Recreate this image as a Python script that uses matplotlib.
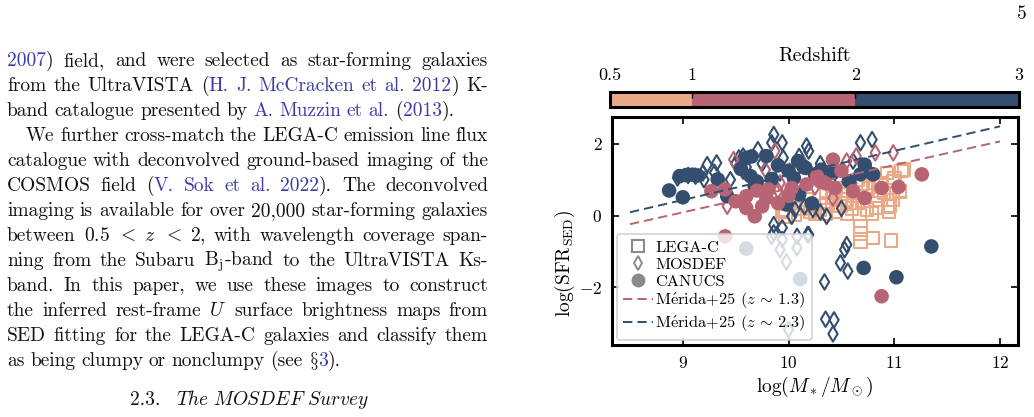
import matplotlib
matplotlib.use("Agg")

import matplotlib.pyplot as plt
import matplotlib.colorbar as mcolorbar
from matplotlib.colors import ListedColormap, BoundaryNorm
from matplotlib.lines import Line2D
import numpy as np

plt.rcParams["font.family"] = ["cmr10", "DejaVu Serif"]
plt.rcParams["mathtext.fontset"] = "cm"
plt.rcParams["axes.formatter.use_mathtext"] = True
plt.rcParams["axes.unicode_minus"] = True

# ---- data ----
z_edges = [0.5, 1, 2, 3]
z_colors = ["#EBAA87", "#B86474", "#344E6F"]   # 0.5-1, 1-2, 2-3

legac_mass = [9.97, 10.06, 9.94, 9.95, 10.23, 10.36, 10.49, 10.55, 10.74, 10.83,
              10.96, 11.05, 11.07, 11.09, 10.93, 10.99, 10.68, 10.68, 10.68, 10.80,
              10.97, 10.36, 10.17, 10.61, 10.80, 10.90, 10.83, 10.42, 10.96, 10.94,
              11.05, 10.99, 10.79, 10.53, 10.41, 10.30, 10.45, 10.60, 10.70, 10.88,
              10.75, 10.50, 10.65, 10.12, 10.25, 10.10, 10.20, 10.35, 10.55, 10.65,
              10.85, 11.00, 10.70, 10.45, 10.95]
legac_sfr = [-0.02, 0.03, 0.17, 0.11, 0.26, 0.35, 0.26, 0.45, 0.17, 0.21,
             0.26, 0.68, 1.24, 1.28, 1.19, 0.96, -0.30, -0.50, -0.74, -0.62,
             -0.70, 0.63, 0.45, 0.63, 0.91, 0.63, 0.45, 0.49, 0.62, 0.25,
             0.67, 0.44, 0.06, 0.34, 0.53, 0.15, 0.10, 0.20, 0.40, 0.90,
             0.75, 0.60, 1.00, 0.20, 0.05, 0.35, 0.10, 0.05, 0.05, 0.35,
             0.70, 1.05, 0.90, 0.75, 0.10]

mosdef_mass = [8.95, 9.05, 9.12, 9.23, 9.32, 9.19, 9.53, 9.57, 9.71, 9.86,
               9.94, 9.84, 9.95, 9.92, 10.17, 10.19, 10.68, 10.79, 10.61, 10.23,
               10.36, 10.03, 10.06, 9.86, 9.94, 10.19, 9.86, 9.57, 10.55, 10.53,
               10.49, 10.56, 10.34, 10.35, 10.43, 10.42, 10.18, 9.84, 9.94, 10.08,
               9.92, 10.08, 9.98, 10.00, 9.30, 9.45, 9.60, 9.75, 10.10, 10.30,
               10.40, 10.00, 10.15, 10.30, 10.50, 9.50, 9.20,
               9.48, 9.87, 9.42, 9.78, 10.01, 10.55, 10.64, 10.82, 10.99, 9.92,
               10.42, 9.65, 9.90, 10.25, 10.60, 10.75, 10.15]
mosdef_sfr = [1.05, 1.12, 1.10, 1.42, 1.47, 1.19, 1.61, 1.66, 1.84, 2.26,
              2.03, 2.03, 1.61, 1.19, 1.94, 1.80, 2.03, 2.12, 1.52, 0.17,
              -0.02, -0.02, 0.17, -0.25, -0.34, -0.53, -0.48, 1.24, -0.81, -0.95,
              -1.32, -1.55, -1.85, -2.89, -2.91, -3.30, -0.53, -0.58, -0.67, -0.58,
              -0.95, -0.90, -1.29, -3.18, 1.20, 1.00, 1.35, 1.45, 1.65, 1.45,
              1.00, 0.60, 0.25, 0.10, 0.20, 1.45, 1.00,
              1.56, 1.80, 0.26, 1.28, 1.24, 1.52, 1.66, 1.75, 1.75, 0.91,
              0.49, 1.00, 0.70, 0.80, 0.90, 1.30, 1.40]
mosdef_zbin = [2] * 57 + [1] * 17

canucs_mass = [8.87, 9.00, 8.97, 9.03, 9.09, 9.14, 9.33, 9.42, 9.64, 9.68,
               9.60, 9.79, 9.65, 9.84, 9.98, 10.10, 10.22, 10.09, 10.16, 10.14,
               10.31, 10.42, 10.57, 10.68, 10.72, 10.80, 11.35, 10.71, 11.02, 10.11,
               9.60, 9.55, 9.90, 10.00, 10.05, 9.70, 10.25,
               9.27, 9.40, 9.60, 9.60, 9.68, 9.75, 9.81, 9.79, 10.03, 10.17,
               10.42, 10.44, 10.61, 10.72, 10.88, 11.04, 11.26, 10.27, 10.35, 9.40,
               10.88, 9.50, 9.90, 10.00, 10.50, 10.30, 9.70]
canucs_sfr = [0.70, 0.51, 1.10, 1.13, 1.14, 1.12, 1.01, 0.54, 1.10, 0.82,
              1.61, 1.66, 1.65, 1.02, 0.31, 0.59, 0.34, 1.52, 1.33, 1.37,
              1.28, 1.19, 0.96, 1.15, 1.42, 1.15, -0.86, -1.46, -1.72, -1.77,
              -0.92, 1.30, 1.40, 1.25, 1.05, 0.95, 1.15,
              0.68, 0.73, 0.54, 0.21, -0.02, 0.26, 0.73, 0.49, 0.77, 0.87,
              1.56, 0.77, 0.68, 0.49, 0.77, 0.80, 1.15, 1.10, 0.90, -0.58,
              -2.25, 0.40, 0.35, 0.55, 1.25, 0.95, 0.70]
canucs_zbin = [2] * 37 + [1] * 27

# Merida+25 main-sequence relations: slope, value at log M = 10
merida_names = [r"M$\acute{\rm e}$rida+25 ($z\,\sim\,1.3$)",
                r"M$\acute{\rm e}$rida+25 ($z\,\sim\,2.3$)"]
merida_slope = [0.66, 0.685]
merida_norm = [0.75, 1.12]
merida_zbin = [1, 2]
merida_range = [8.5, 12.0]

# ---- page text (left column): (text, justified, indented); @ toggles link colour ----
page_lines = [
    ("@2007@) field, and were selected as star-forming galaxies", True, False),
    ("from the UltraVISTA (@H. J. McCracken et al. 2012@) K-", True, False),
    ("band catalogue presented by @A. Muzzin et al.@ (@2013@).", False, False),
    ("We further cross-match the LEGA-C emission line flux", True, True),
    ("catalogue with deconvolved ground-based imaging of the", True, False),
    ("COSMOS field (@V. Sok et al. 2022@).  The deconvolved", True, False),
    ("imaging is available for over 20,000 star-forming galaxies", True, False),
    ("between $0.5$ $<$ $z$ $<$ $2$, with wavelength coverage span-", True, False),
    ("ning from the Subaru B$_\\mathrm{j}$-band to the UltraVISTA Ks-", True, False),
    ("band.  In this paper, we use these images to construct", True, False),
    ("the inferred rest-frame $U$ surface brightness maps from", True, False),
    ("SED fitting for the LEGA-C galaxies and classify them", True, False),
    ("as being clumpy or nonclumpy (see $\\S$@3@).", False, False),
]

W, H = 1034, 417
fig = plt.figure(figsize=(W / 100, H / 100), dpi=100)
renderer = fig.canvas.get_renderer()
BLUE = "#3A3AA8"
INK = "#111111"
FS_TEXT = 14.0


def fx(px):
    return px / W


def fy(py):
    return 1 - py / H


def draw_line(line, y, x0, x1, justify):
    blue = False
    words = []
    for word in line.split():
        pieces = []
        for k, part in enumerate(word.split("@")):
            if k > 0:
                blue = not blue
            if part:
                t = fig.text(0, 0, part, fontsize=FS_TEXT, va="baseline",
                             color=BLUE if blue else INK)
                w = t.get_window_extent(renderer).width
                pieces.append((t, w))
        words.append(pieces)
    widths = [sum(w for _, w in p) for p in words]
    if justify and len(words) > 1:
        gap = (x1 - x0 - sum(widths)) / (len(words) - 1)
    else:
        gap = 5.8
    x = x0
    for pieces, ww in zip(words, widths):
        xx = x
        for t, w in pieces:
            t.set_position((fx(xx), fy(y)))
            xx += w
        x += ww + gap


for i, (line, just, indent) in enumerate(page_lines):
    draw_line(line, 65.7 + 25 * i, 26 if indent else 7, 488, just)

fig.text(fx(130), fy(405), "2.3.", fontsize=FS_TEXT, va="baseline", color=INK)
fig.text(fx(176), fy(405), r"$\it{The\ MOSDEF\ Survey}$", fontsize=FS_TEXT,
         va="baseline", color=INK)
fig.text(fx(1017), fy(19), "5", fontsize=FS_TEXT, va="baseline", color=INK)

# ---- main axes ----
ax = fig.add_axes([fx(612), fy(345), (1018 - 612) / W, (345 - 117) / H])

ax.scatter(legac_mass, legac_sfr, marker="s", s=80, facecolors="none",
           edgecolors=z_colors[0], linewidths=1.5, zorder=2)
ax.scatter(mosdef_mass, mosdef_sfr, marker="d", s=62, facecolors="none",
           edgecolors=[z_colors[b] for b in mosdef_zbin], linewidths=1.5, zorder=3)
ax.scatter(canucs_mass, canucs_sfr, marker="o", s=110,
           c=[z_colors[b] for b in canucs_zbin], edgecolors="none", zorder=4)

xm = np.array(merida_range)
for name, sl, nm, b in zip(merida_names, merida_slope, merida_norm, merida_zbin):
    ax.plot(xm, nm + sl * (xm - 10), ls=(0, (4.8, 2.6)), lw=1.4,
            color=z_colors[b], zorder=5)

ax.set_xlim(8.33, 12.17)
ax.set_ylim(-3.61, 2.75)
ax.set_xticks([9, 10, 11, 12])
ax.set_yticks([-2, 0, 2])
ax.tick_params(direction="in", top=True, right=True, length=5, width=1.2,
               labelsize=12.5, pad=7)
for sp in ax.spines.values():
    sp.set_linewidth(2.2)
ax.set_xlabel(r"$\log(M_*/M_\odot)$", fontsize=14, labelpad=3)
ax.set_ylabel(r"$\log({\rm SFR}_{\rm SED})$", fontsize=14)
ax.yaxis.set_label_coords(-0.085, 0.36)

gray = "#8a8a8a"
handles = [
    Line2D([], [], ls="none", marker="s", ms=9, mfc="none", mec=gray, mew=1.5),
    Line2D([], [], ls="none", marker="d", ms=7, mfc="none", mec=gray, mew=1.4),
    Line2D([], [], ls="none", marker="o", ms=10, mfc=gray, mec="none"),
    Line2D([], [], ls=(0, (4.8, 2.6)), lw=1.4, color=z_colors[1]),
    Line2D([], [], ls=(0, (4.8, 2.6)), lw=1.4, color=z_colors[2]),
]
labels = ["LEGA-C", "MOSDEF", "CANUCS"] + merida_names
leg = ax.legend(handles, labels, loc="lower left", fontsize=11.8, framealpha=0.8,
                edgecolor="#cccccc", borderaxespad=0.3, handlelength=1.8,
                handletextpad=0.15, labelspacing=0.15, borderpad=0.4)
leg.get_frame().set_linewidth(1.3)
leg.set_zorder(10)

# ---- redshift colour bar ----
cax = fig.add_axes([fx(610), fy(106.5), (1019 - 610) / W, 15 / H])
cmap = ListedColormap(z_colors)
norm = BoundaryNorm(z_edges, cmap.N)
cb = mcolorbar.ColorbarBase(cax, cmap=cmap, norm=norm, orientation="horizontal",
                            spacing="proportional", ticks=z_edges)
cb.set_ticklabels(["0.5", "1", "2", "3"])
cb.outline.set_linewidth(2.2)
cax.xaxis.set_ticks_position("top")
cax.xaxis.set_label_position("top")
cax.tick_params(direction="in", length=4, width=1.0, labelsize=13, pad=6)
cb.set_label("Redshift", fontsize=14.3, labelpad=5)

fig.savefig("out.png", dpi=100)
plt.close(fig)
